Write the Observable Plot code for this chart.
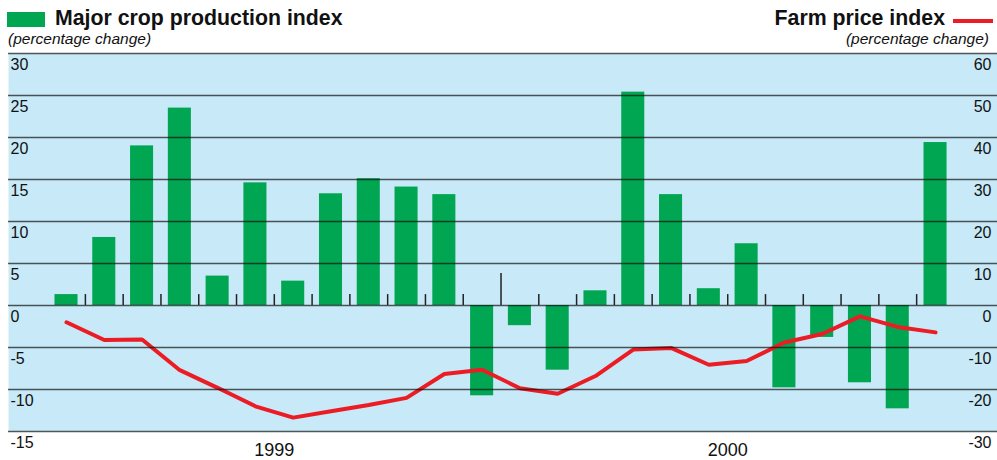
<!DOCTYPE html>
<html><head><meta charset="utf-8">
<script src="https://cdn.jsdelivr.net/npm/d3@7"></script>
<script src="https://cdn.jsdelivr.net/npm/@observablehq/plot@0.6"></script>
<style>
body{margin:0;background:#fff;font-family:"Liberation Sans",Arial,Helvetica,sans-serif;color:#111;}
#wrap{position:relative;width:997px;height:460px;overflow:hidden}
#hdr{position:relative;height:50px}
#hdr div{position:absolute;white-space:nowrap}
.swg{left:7px;top:12px;width:38px;height:15px;background:#00a651}
.t1{left:55px;top:8px;font-weight:bold;font-size:21.3px;line-height:21px}
.s1{left:8px;top:31px;font-style:italic;font-size:15.5px;line-height:15px}
.t2{right:52px;top:8px;font-weight:bold;font-size:21.3px;line-height:21px}
.swr{left:953px;top:19px;width:40px;height:4px;background:#ed1c24}
.s2{right:8px;top:31px;font-style:italic;font-size:15.5px;line-height:15px}
#chart svg{display:block}
</style></head><body>
<div id="wrap">
<div id="hdr">
  <div class="swg"></div>
  <div class="t1">Major crop production index</div>
  <div class="s1">(percentage change)</div>
  <div class="t2">Farm price index</div>
  <div class="swr"></div>
  <div class="s2">(percentage change)</div>
</div>
<div id="chart"></div>
</div>
<script>
const months = ["Jan 1999","Feb 1999","Mar 1999","Apr 1999","May 1999","Jun 1999","Jul 1999","Aug 1999","Sep 1999","Oct 1999","Nov 1999","Dec 1999",
                "Jan 2000","Feb 2000","Mar 2000","Apr 2000","May 2000","Jun 2000","Jul 2000","Aug 2000","Sep 2000","Oct 2000","Nov 2000","Dec 2000"];
const production = [1.3, 8.1, 19.0, 23.5, 3.5, 14.6, 2.9, 13.3, 15.1, 14.1, 13.2, -10.75,
                    -2.4, -7.7, 1.75, 25.4, 13.2, 2.0, 7.35, -9.8, -3.8, -9.2, -12.3, 19.4];
const farmPrice = [-4.0, -8.2, -8.1, -15.4, -19.6, -24.0, -26.7, -25.2, -23.7, -22.0, -16.3, -15.3,
                   -19.7, -21.0, -16.8, -10.5, -10.1, -14.1, -13.2, -8.8, -6.8, -2.6, -5.1, -6.4];
const years = ["1999", "2000"];
const leftTicks = [-15, -10, -5, 0, 5, 10, 15, 20, 25, 30];
const rightTicks = [-30, -20, -10, 0, 10, 20, 30, 40, 50, 60];

const data = months.map((m, i) => ({month: m, i, production: production[i], price: farmPrice[i]}));
const boundaries = data.slice(0, -1).map((d, k) => ({
  x: d.i + 0.5,
  long: d.month.slice(-4) !== data[k + 1].month.slice(-4)
}));
const yearPos = years.map(y => ({year: y, x: d3.mean(data.filter(d => d.month.endsWith(y)), d => d.i)}));

const chart = Plot.plot({
  width: 997,
  height: 410,
  marginTop: 3,
  marginBottom: 29,
  marginLeft: 8,
  marginRight: 0,
  style: {fontFamily: '"Liberation Sans", Arial, sans-serif', background: "transparent", overflow: "visible"},
  x: {type: "linear", domain: [-1.535, 24.64], axis: null},
  y: {domain: [-15, 30], axis: null},
  marks: [
    Plot.frame({fill: "#c7e9f8", stroke: null}),
    Plot.rectY(data, {x1: d => d.i - 0.305, x2: d => d.i + 0.305, y1: 0, y2: "production", fill: "#00a651"}),
    Plot.line(data, {x: "i", y: d => d.price / 2, stroke: "#ec1c24", strokeWidth: 4, strokeLinejoin: "miter"}),
    Plot.ruleY(leftTicks, {stroke: "#111", strokeOpacity: 0.7, strokeWidth: 1.4}),
    Plot.ruleX(boundaries, {x: "x", y1: 0, y2: d => d.long ? 3.8 : 1.3, stroke: "#222", strokeWidth: 1.5}),
    Plot.text(leftTicks, {y: d => d, text: d => String(d), frameAnchor: "left", textAnchor: "start", lineAnchor: "top", dx: 2, dy: 5, fontSize: 16, fill: "#111"}),
    Plot.text(rightTicks, {y: d => d / 2, text: d => String(d), frameAnchor: "right", textAnchor: "end", lineAnchor: "top", dx: -6, dy: 5, fontSize: 16, fill: "#111"}),
    Plot.text(yearPos, {x: "x", text: "year", frameAnchor: "bottom", lineAnchor: "top", dy: 12, fontSize: 18, fill: "#111"})
  ]
});
document.getElementById("chart").appendChild(chart);
</script>
</body></html>
